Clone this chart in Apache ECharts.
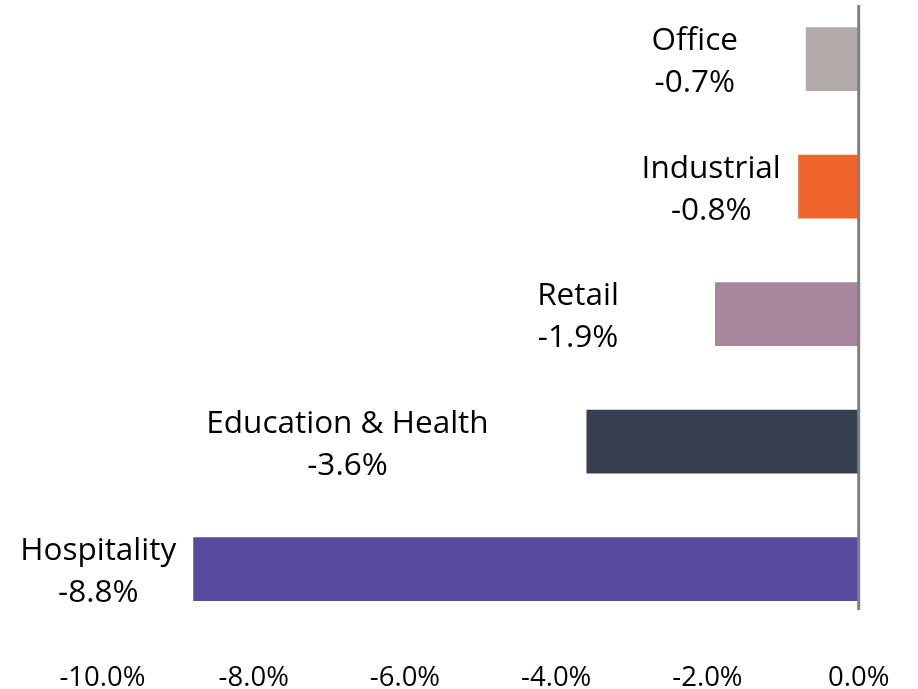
<!DOCTYPE html>
<html>
<head>
<meta charset="utf-8">
<script src="https://cdn.jsdelivr.net/npm/echarts@6/dist/echarts.min.js"></script>
<style>
  html, body { margin: 0; padding: 0; background: #fff; }
  #chart { width: 918px; height: 689px; }
</style>
</head>
<body>
<div id="chart"></div>
<script>
// sectors, top to bottom
const sectors = ["Office", "Industrial", "Retail", "Education & Health", "Hospitality"];
const changes = [-0.7, -0.8, -1.9, -3.6, -8.8];
const barColors = ["#b3aba9", "#f0652b", "#a6869c", "#353f50", "#574a9e"];
// how far left of the bar each label sits (label centre)
const labelGap = [111, 87, 137, 239, 95];

const chart = echarts.init(document.getElementById("chart"));

const option = {
  animation: false,
  grid: {
    left: 102.5, right: 59.3, top: -4.75, height: 637.5,
    containLabel: false, outerBoundsMode: "none",
  },
  xAxis: {
    type: "value",
    min: -10,
    max: 0,
    interval: 2,
    splitLine: { show: false },
    axisLine: { show: false },
    axisTick: { show: false },
    axisLabel: {
      margin: 31,
      fontFamily: "Open Sans",
      fontSize: 27.5,
      color: "#000",
      formatter: (v) => v.toFixed(1) + "%",
    },
  },
  yAxis: {
    type: "category",
    inverse: true,
    data: sectors,
    axisLine: { show: false },
    axisTick: { show: false },
    axisLabel: { show: false },
  },
  series: [
    {
      type: "bar",
      barCategoryGap: "50%",
      data: changes.map((v, i) => ({
        value: v,
        itemStyle: { color: barColors[i] },
        label: {
          show: true,
          position: "left",
          align: "center",
          distance: labelGap[i],
          offset: [0, 3.5],
          fontFamily: "Open Sans",
          fontSize: 31.5,
          lineHeight: 42,
          color: "#000",
          formatter: sectors[i] + "\n" + v.toFixed(1) + "%",
        },
      })),
    },
  ],
};
chart.setOption(option);

// zero line (the vertical axis line)
const x0 = chart.convertToPixel({ xAxisIndex: 0 }, 0);
chart.setOption({
  graphic: [
    {
      type: "line",
      z: 10,
      shape: { x1: x0, y1: 5, x2: x0, y2: 610 },
      style: { stroke: "#808080", lineWidth: 3 },
    },
  ],
});
</script>
</body>
</html>
